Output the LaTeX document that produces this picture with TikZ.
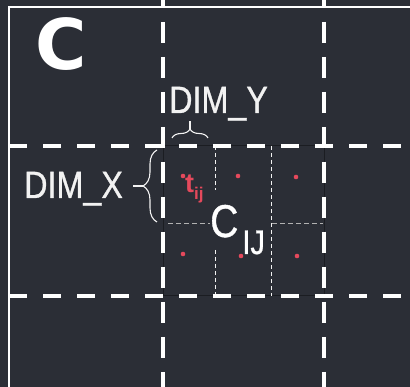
\documentclass[tikz,border=0pt]{standalone}
\usepackage{fontspec}
\setmainfont{Liberation Sans}
\newfontfamily\condfont{Liberation Sans}[FakeStretch=0.85, FakeBold=0.8]
\newfontfamily\heavyfont{DejaVu Sans}
\usetikzlibrary{positioning,decorations.pathreplacing,calc}
\definecolor{slate}{HTML}{2B2E36}
\definecolor{edge}{HTML}{1B1D22}
\definecolor{pin}{HTML}{E5495C}
\definecolor{chalk}{HTML}{F2F2F2}

\begin{document}
\begin{tikzpicture}[x=1pt, y=-1pt,
          hdash/.style={draw=white, line width=3.8pt, line cap=butt, dash pattern=on 18pt off 16pt},
          vdash/.style={draw=white, line width=3.8pt, line cap=butt, dash pattern=on 21pt off 14pt},
          griddot/.style={draw=chalk, line width=0.9pt, dash pattern=on 4pt off 3pt},
          rowdot/.style={draw=gray!60!white, line width=0.9pt, dash pattern=on 5pt off 3pt},
          tile/.style={circle, fill=pin, inner sep=0pt, minimum size=4.6pt},
          dimlabel/.style={text=chalk, inner sep=0pt, anchor=base west, font=\condfont\fontsize{38}{38}\selectfont},
          brace/.style={draw=chalk, line width=1.1pt, decorate, decoration={brace, amplitude=#1}}]
        \fill[slate] (0,0) rectangle (410,387);
        \clip (0,0) rectangle (410,387);
        % frame
        \draw[white, line width=2.2pt] (9,400) -- (9,7) -- (420,7);
        % the block C_IJ and its tiles
        \draw[edge, line width=1pt] (163,146) rectangle (324,296);
        \draw[griddot] (215,146) -- (215,190);
        \draw[griddot] (215,250) -- (215,296);
        \draw[griddot] (271,146) -- (271,296);
        \draw[rowdot] (168,223) -- (210,223);
        \draw[rowdot] (272,223) -- (323,223);
        % block boundaries
        \draw[hdash] (9,146) -- (420,146);
        \draw[hdash] (9,296) -- (420,296);
        \draw[vdash] (163,-13) -- (163,400);
        \draw[vdash] (324,-13) -- (324,400);
        % threads
        \node[tile] (t11) at (183,176) {};
        \node[tile] (t12) at (238,176) {};
        \node[tile] (t13) at (296,177) {};
        \node[tile] (t21) at (183,254) {};
        \node[tile] (t22) at (241,256) {};
        \node[tile] (t23) at (297,256) {};
        % labels
        \node[text=white, inner sep=0pt, font=\heavyfont\bfseries\fontsize{70}{70}\selectfont] (panel) at (61,44) {C};
        \node[dimlabel] (dimy) at (169,113) {DIM\_Y};
        \node[dimlabel] (dimx) at (24,198) {DIM\_X};
        \node[text=pin, inner sep=0pt, anchor=base west, font=\bfseries\fontsize{27}{27}\selectfont] (tij) at (185,193) {t\raisebox{-7pt}{\fontsize{17}{17}\selectfont ij}};
        \node[dimlabel, text=white, font=\condfont\fontsize{46}{46}\selectfont] (cij) at (210,237) {C\kern4pt\raisebox{-17pt}{\fontsize{34}{34}\selectfont IJ}};
        % braces
        \coordinate (ya) at (172,138);
        \coordinate (yb) at (208,138);
        \coordinate (ytip) at (190,129);
        \coordinate (xa) at (157,222);
        \coordinate (xb) at (157,150);
        \coordinate (xtip) at (143,186);
        \draw[brace=9pt] (ya) -- (yb);
        \draw[chalk, line width=1.1pt] (ytip) -- ++(0,-8);
        \draw[brace=14pt] (xa) -- (xb);
        \draw[chalk, line width=1.1pt] (xtip) -- ++(-10,0);
      \end{tikzpicture}
\end{document}
